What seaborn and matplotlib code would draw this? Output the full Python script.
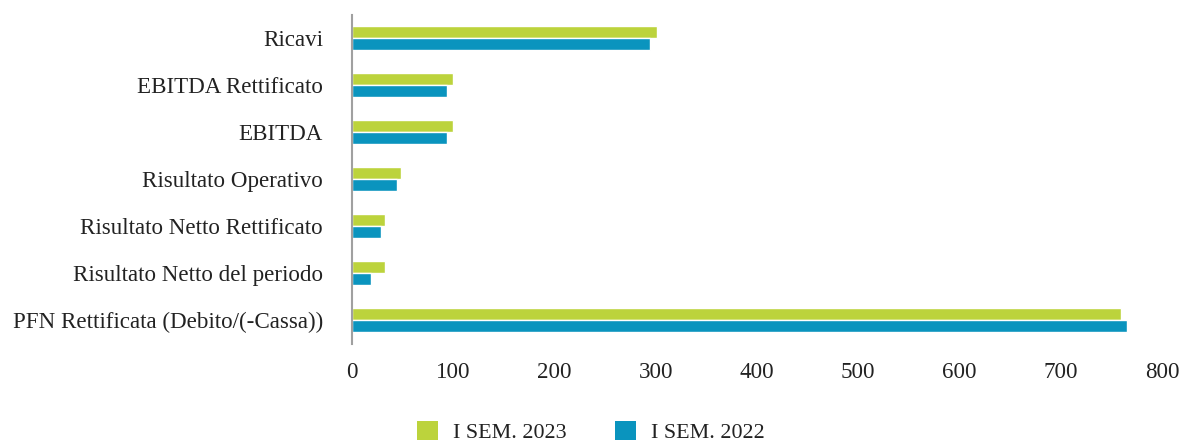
import matplotlib
matplotlib.use("Agg")
import matplotlib.pyplot as plt
import seaborn as sns
import pandas as pd
from matplotlib.patches import Patch

categories = ["Ricavi", "EBITDA Rettificato", "EBITDA", "Risultato Operativo",
              "Risultato Netto Rettificato", "Risultato Netto del periodo",
              "PFN Rettificata (Debito/(-Cassa))"]
series_names = ["I SEM. 2023", "I SEM. 2022"]
values_2023 = [301, 100, 100, 48, 33, 33, 760]
values_2022 = [294, 94, 94, 44, 29, 19, 765]
x_ticks = [0, 100, 200, 300, 400, 500, 600, 700, 800]

colors = ["#BCD33C", "#0A94BE"]

df = pd.DataFrame({
    "Categoria": categories * 2,
    "Valore": values_2023 + values_2022,
    "Periodo": [series_names[0]] * len(categories) + [series_names[1]] * len(categories),
})

sns.set_style("white")
plt.rcParams["font.family"] = ["Liberation Serif", "DejaVu Serif"]

fig = plt.figure(figsize=(11.82, 4.43), dpi=100)
ax = fig.add_axes([352 / 1182, 1 - 343.5 / 443, (1162 - 352) / 1182, (343.5 - 14.5) / 443])

sns.barplot(data=df, y="Categoria", x="Valore", hue="Periodo", order=categories,
            hue_order=series_names, palette=colors, orient="h", width=0.53, gap=0.07,
            saturation=1, ax=ax, legend=False)

ax.set_xlim(0, 800)
ax.set_ylim(6.5, -0.5)
ax.set_xticks(x_ticks)
ax.set_xticklabels([str(t) for t in x_ticks])
ax.set_xlabel("")
ax.set_ylabel("")
for s in ["top", "right", "bottom"]:
    ax.spines[s].set_visible(False)
ax.spines["left"].set_color("#A0A0A0")
ax.spines["left"].set_linewidth(1.5)
ax.tick_params(axis="both", length=0, labelsize=16.6, colors="#222222")
ax.tick_params(axis="x", pad=13)
ax.tick_params(axis="y", pad=21)

handles = [Patch(facecolor=c, edgecolor="none") for c in colors]
fig.legend(handles, series_names, loc="center", bbox_to_anchor=(0.5, 1 - 432 / 443),
           ncol=2, frameon=False, fontsize=15.8, handlelength=0.95, handleheight=0.95,
           columnspacing=2.2, handletextpad=0.7, labelcolor="#222222")

fig.savefig("out.png", dpi=100)
